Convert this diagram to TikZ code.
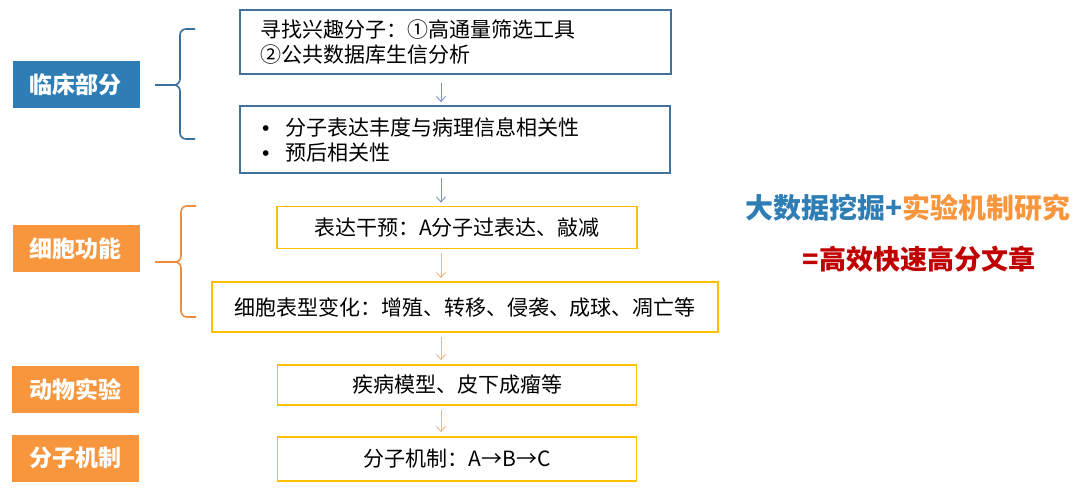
\documentclass[tikz,border=0pt]{standalone}
\usepackage{fontspec}
\setmainfont{Noto Sans CJK SC}
\newfontfamily\bulfont{Liberation Sans}
\usetikzlibrary{arrows.meta,calc}
\definecolor{lblue}{HTML}{2E7EB5}
\definecolor{lorange}{HTML}{F7963D}
\definecolor{boxblue}{HTML}{41719C}
\definecolor{gold}{HTML}{FFC000}
\definecolor{arrblue}{HTML}{7F8FBF}
\definecolor{arrorange}{HTML}{F4B183}
\definecolor{braceblue}{HTML}{3C6E9E}
\definecolor{braceorange}{HTML}{F08C3C}
\definecolor{dred}{HTML}{C00000}
\newcommand{\mybul}{\makebox[23pt][l]{\bulfont •}}
\begin{document}
\begin{tikzpicture}[x=1pt,y=-1pt,
  lab/.style={fill=#1, text=white, font=\fontsize{23}{27}\selectfont\bfseries,
    minimum width=127pt, minimum height=47pt, inner sep=0pt},
  bbox/.style={draw=boxblue, line width=1.8pt, font=\fontsize{21}{25}\selectfont},
  ybox/.style={draw=gold, line width=1.8pt, font=\fontsize{21}{25}\selectfont, inner sep=0pt},
  barrow/.style={draw=arrblue, line width=0.9pt, -{Straight Barb[length=5pt,width=9pt]}},
  oarrow/.style={draw=arrorange, line width=0.9pt, -{Straight Barb[length=5pt,width=9pt]}},
  brace/.style={draw=#1, line width=1.6pt, rounded corners=6pt}
]
\useasboundingbox (0,0) rectangle (1080,488);

% labels
\node[lab=lblue] (L1) at (76,84.5) {临床部分};
\node[lab=lorange] (L2) at (76,248.5) {细胞功能};
\node[lab=lorange] (L3) at (75.5,389.5) {动物实验};
\node[lab=lorange] (L4) at (75.5,458) {分子机制};

% boxes
\node[bbox, minimum width=431pt, minimum height=64pt, text width=391pt, inner xsep=20pt,
  inner ysep=0pt, align=left] (A) at (455.5,42)
  {寻找兴趣分子：①高通量筛选工具\\②公共数据库生信分析};
\node[bbox, minimum width=430pt, minimum height=67pt, text width=386pt, inner xsep=22pt,
  inner ysep=0pt, align=left] (B) at (455,139.5)
  {\mybul 分子表达丰度与病理信息相关性\\\mybul 预后相关性};
\node[ybox, minimum width=360pt, minimum height=42pt] (C) at (457,227.5) {表达干预：A分子过表达、敲减};
\node[ybox, minimum width=506pt, minimum height=50pt] (D) at (465,307) {细胞表型变化：增殖、转移、侵袭、成球、凋亡等};
\node[ybox, minimum width=359pt, minimum height=40pt] (E) at (457,385) {疾病模型、皮下成瘤等};
\node[ybox, minimum width=359pt, minimum height=44pt] (F) at (457,459) {分子机制：A→B→C};

% arrows
\coordinate (ax) at (441,0);
\draw[barrow] ($(A.south -| ax)+(0,8)$) -- ($(B.north -| ax)+(0,-3)$);
\draw[barrow] ($(B.south -| ax)+(0,4)$) -- ($(C.north -| ax)+(0,-3)$);
\draw[oarrow] ($(C.south -| ax)+(0,4)$) -- ($(D.north -| ax)+(0,-3)$);
\draw[oarrow] ($(D.south -| ax)+(0,4)$) -- ($(E.north -| ax)+(0,-4)$);
\draw[oarrow] ($(E.south -| ax)+(0,4)$) -- ($(F.north -| ax)+(0,-4)$);

% braces
\coordinate (b1t) at (195,29);
\coordinate (b1m) at (155,85);
\coordinate (b1b) at (195,139);
\draw[brace=braceblue] (b1t) -- (180,29) -- (180,85) -- (b1m);
\draw[brace=braceblue] (b1b) -- (180,139) -- (180,85) -- (b1m);
\coordinate (b2t) at (196,206);
\coordinate (b2m) at (155,262);
\coordinate (b2b) at (196,317);
\draw[brace=braceorange] (b2t) -- (181,206) -- (181,262) -- (b2m);
\draw[brace=braceorange] (b2b) -- (181,317) -- (181,262) -- (b2m);

% right text
\node[font=\fontsize{28}{32}\selectfont\bfseries, inner sep=0pt] (R1) at (908,208)
  {\textcolor{lblue}{大数据挖掘+}\textcolor{lorange}{实验机制研究}};
\node[font=\fontsize{27}{31}\selectfont\bfseries, text=dred, inner sep=0pt] (R2) at (919,259)
  {=高效快速高分文章};
\end{tikzpicture}
\end{document}
